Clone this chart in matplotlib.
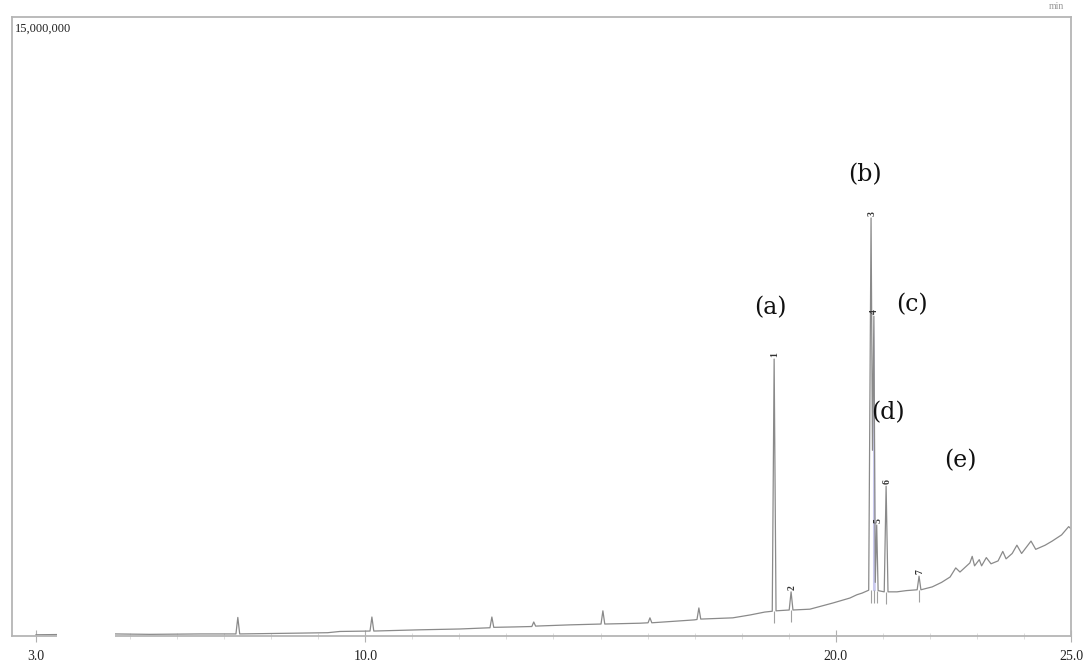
import matplotlib
matplotlib.use('Agg')
import matplotlib.pyplot as plt
from matplotlib.patches import Rectangle

# retention time (min) and detector signal (x 1e6 counts)
rt_min = [3.00, 4.68, 5.42, 6.49, 7.25, 7.29, 7.33, 8.61, 9.20, 9.46, 10.10, 10.14, 10.18,
          11.16, 12.01, 12.65, 12.69, 12.73, 13.18, 13.54, 13.58, 13.62, 14.35, 15.01, 15.05,
          15.09, 15.84, 16.01, 16.05, 16.09, 16.99, 17.05, 17.09, 17.13, 17.81, 18.18, 18.49,
          18.65, 18.69, 18.73, 19.01, 19.05, 19.09, 19.45, 19.94, 20.30, 20.45, 20.56, 20.70,
          20.75, 20.78, 20.81, 20.84, 20.87, 20.90, 21.03, 21.07, 21.11, 21.30, 21.50, 21.73,
          21.77, 21.81, 22.05, 22.25, 22.43, 22.55, 22.64, 22.85, 22.90, 22.95, 23.05, 23.10,
          23.20, 23.30, 23.45, 23.55, 23.62, 23.75, 23.85, 23.95, 24.15, 24.25, 24.45, 24.60,
          24.80, 24.95, 25.00]
signal_e6 = [0.03, 0.05, 0.04, 0.05, 0.05, 0.45, 0.05, 0.07, 0.08, 0.11, 0.12, 0.46, 0.12,
             0.15, 0.17, 0.20, 0.46, 0.21, 0.22, 0.23, 0.34, 0.24, 0.27, 0.29, 0.61,
             0.29, 0.31, 0.32, 0.44, 0.32, 0.39, 0.40, 0.68, 0.41, 0.44, 0.51, 0.58,
             0.60, 6.71, 0.61, 0.63, 1.07, 0.63, 0.65, 0.80, 0.92, 1.00, 1.04, 1.11,
             10.13, 4.50, 7.75, 1.30, 2.69, 1.10, 1.07, 3.63, 1.07, 1.07, 1.10, 1.12,
             1.45, 1.12, 1.19, 1.30, 1.43, 1.65, 1.55, 1.77, 1.93, 1.70, 1.85, 1.70,
             1.90, 1.75, 1.82, 2.05, 1.87, 2.00, 2.20, 2.00, 2.30, 2.10, 2.20, 2.30,
             2.45, 2.65, 2.60]

# numbered peaks
peak_no = ['1', '2', '3', '4', '5', '6', '7']
peak_rt = [18.69, 19.05, 20.75, 20.81, 20.87, 21.07, 21.77]
peak_top = [6.71, 1.07, 10.13, 7.75, 2.69, 3.63, 1.45]
peak_base = [0.61, 0.63, 1.11, 1.11, 1.10, 1.07, 1.12]

# compound letters
letters = ['(a)', '(b)', '(c)', '(d)', '(e)']
letter_rt = [18.60, 20.62, 21.62, 21.11, 22.64]
letter_y = [7.95, 11.17, 8.02, 5.40, 4.26]

xtick_pos = [3.0, 10.0, 20.0, 25.0]
xtick_lbl = ['3.0', '10.0', '20.0', '25.0']

fig = plt.figure(figsize=(10.89, 6.66), dpi=100)
ax = fig.add_axes([12/1089, 30/666, 1059/1089, 619/666])

ax.plot(rt_min, signal_e6, color='#8a8a8a', lw=0.9)
# overlapped part of peaks 3/4 shows up lavender
ax.fill_between(rt_min, 1.1, signal_e6, where=[20.76 <= t <= 20.83 for t in rt_min],
                color='#c9c9ee', lw=0, interpolate=True)

# integration marks below each peak
ax.vlines(peak_rt, [b - 0.3 for b in peak_base], peak_base, color='#a0a0a0', lw=0.8)

for n, t, h in zip(peak_no, peak_rt, peak_top):
    ax.text(t + 0.02, h + 0.05, n, rotation=90, fontsize=7, color='#333333',
            fontweight='bold', ha='center', va='bottom', family='Liberation Serif')

for s, t, y in zip(letters, letter_rt, letter_y):
    ax.text(t, y, s, fontsize=17, color='#111111', ha='center', va='center',
            family='DejaVu Serif')

ax.set_xlim(2.49, 25.0)
ax.set_ylim(0, 15)
ax.set_xticks(xtick_pos)
ax.set_xticklabels(xtick_lbl, family='Liberation Serif', fontsize=10, color='#222222')
ax.set_xticks(range(4, 25), minor=True)
ax.tick_params(axis='x', which='major', direction='inout', length=8, width=0.8,
               color='#b0b0b0', pad=6)
ax.tick_params(axis='x', which='minor', direction='inout', length=4, width=0.5,
               color='#d0d0d0')
ax.set_yticks([])
for sp in ax.spines.values():
    sp.set_color('#b5b5b5')
    sp.set_linewidth(1.3)

ax.text(0.003, 0.99, '15,000,000', transform=ax.transAxes, ha='left', va='top',
        fontsize=9, family='Liberation Serif', color='#222222')

# small label at top right
fig.text(1056/1089, 1 - 2/666, 'min', ha='center', va='top', fontsize=7,
         color='#999999', family='Liberation Serif')

# blank patch over the axis line
fig.patches.append(Rectangle((57/1089, 0), 58/1089, 40/666, transform=fig.transFigure,
                             facecolor='white', edgecolor='none', zorder=10))

fig.savefig('out.png', dpi=100)
